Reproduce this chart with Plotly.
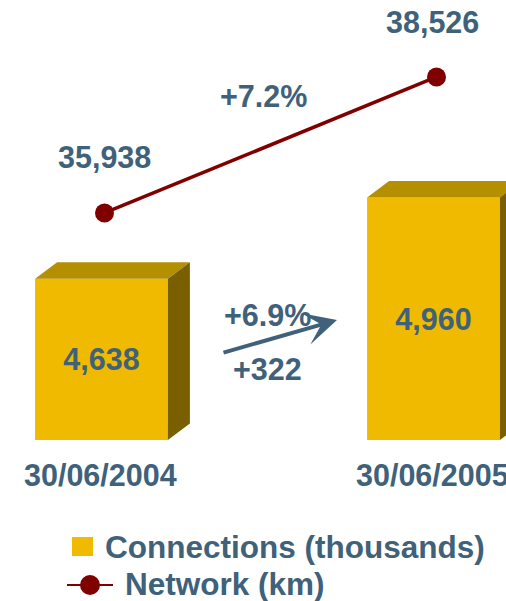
import plotly.graph_objects as go

# ---- data ----
categories = ["30/06/2004", "30/06/2005"]
connections = [4638, 4960]          # thousands
network = [35938, 38526]            # km
series_names = ["Connections (thousands)", "Network (km)"]

# ---- styling ----
W, H = 506, 601
TEXT = "#40617A"
FRONT = "#EFBA00"
TOP = "#B48F00"
SIDE = "#7A5F00"
LINE = "#800000"
FONT = "Liberation Sans, Arial, sans-serif"
FS = 30.5
FS_LEG = 31.5

BASE = 4000                          # bar axis baseline
X_RANGE = [-101.5 / 332, 1 + (W - 433.5) / 332]
Y_RANGE = [3363, 5741]
Y2_RANGE = [28554, 39991]
BAR_W = 0.4
DX = 22 / 332                        # depth offset (x units)
DY = 16.5 * (Y_RANGE[1] - Y_RANGE[0]) / H  # depth offset (y units)
LINE_DX = 3 / 332                    # small horizontal offset of line points

xs = list(range(len(categories)))

fig = go.Figure()

# front faces
fig.add_trace(go.Bar(
    x=xs, y=[v - BASE for v in connections], base=BASE, width=BAR_W,
    marker=dict(color=FRONT, line=dict(width=0)),
    text=[f"{v:,}" for v in connections], textposition="inside",
    insidetextanchor="middle", textangle=0,
    textfont=dict(family=FONT, size=FS, color=TEXT, weight="bold"),
    name=series_names[0], showlegend=False, hoverinfo="skip",
))

# top and side faces (3D effect), derived from the data
for x, v in zip(xs, connections):
    l, r = x - BAR_W / 2, x + BAR_W / 2
    fig.add_trace(go.Scatter(
        x=[l, l + DX, r + DX, r, l], y=[v, v + DY, v + DY, v, v],
        fill="toself", fillcolor=TOP, mode="lines", line=dict(width=0),
        showlegend=False, hoverinfo="skip"))
    fig.add_trace(go.Scatter(
        x=[r, r + DX, r + DX, r, r], y=[v, v + DY, BASE + DY, BASE, v],
        fill="toself", fillcolor=SIDE, mode="lines", line=dict(width=0),
        showlegend=False, hoverinfo="skip"))

# network line
fig.add_trace(go.Scatter(
    x=[x + LINE_DX for x in xs], y=network, yaxis="y2", mode="lines+markers",
    line=dict(color=LINE, width=3.5),
    marker=dict(color=LINE, size=19),
    name=series_names[1], showlegend=False, hoverinfo="skip",
))

ann = []
def txt(text, size=FS, **kw):
    d = dict(text=text, showarrow=False, xanchor="center", yanchor="middle",
             font=dict(family=FONT, size=size, color=TEXT, weight="bold"))
    d.update(kw)
    ann.append(d)

# network value labels
shifts = [(3, 56), (-1, 55)]
for x, v, (sx, sy) in zip(xs, network, shifts):
    txt(f"{v:,}", x=x, y=v, xref="x", yref="y2", xshift=sx, yshift=sy)

# network growth
net_pct = (network[1] - network[0]) / network[0] * 100
txt(f"+{net_pct:.1f}%", x=0.5, y=sum(network) / 2, xref="x", yref="y2",
    xshift=-4.5, yshift=49)

# connections growth
con_pct = (connections[1] - connections[0]) / connections[0] * 100
txt(f"+{con_pct:.1f}%", x=267.5 / W, y=1 - 315 / H, xref="paper", yref="paper")
txt(f"+{connections[1] - connections[0]:,}", x=267 / W, y=1 - 369 / H,
    xref="paper", yref="paper")
ann.append(dict(x=337 / W, y=1 - 320 / H, xref="paper", yref="paper",
                ax=-115, ay=33, showarrow=True, arrowhead=3, arrowsize=1.35,
                arrowwidth=4, arrowcolor=TEXT, text="", standoff=0))

# category labels
for x, c in zip(xs, categories):
    txt(c, x=x, y=1 - 475 / H, xref="x", yref="paper", xshift=-1.5)

# legend
txt(series_names[0], size=FS_LEG, x=103 / W, y=1 - 547 / H, xref="paper",
    yref="paper", xanchor="left")
txt(series_names[1], size=FS_LEG, x=123 / W, y=1 - 584 / H, xref="paper",
    yref="paper", xanchor="left")

shapes = [
    dict(type="rect", xref="paper", yref="paper", x0=72 / W, x1=93 / W,
         y0=1 - 556 / H, y1=1 - 537 / H, fillcolor=FRONT, line=dict(width=0)),
    dict(type="line", xref="paper", yref="paper", x0=67 / W, x1=113 / W,
         y0=1 - 585 / H, y1=1 - 585 / H, line=dict(color=LINE, width=2)),
    dict(type="circle", xref="paper", yref="paper", x0=80 / W, x1=100 / W,
         y0=1 - 595 / H, y1=1 - 575 / H, fillcolor=LINE, line=dict(width=0)),
]

fig.update_layout(
    width=W, height=H, margin=dict(l=0, r=0, t=0, b=0),
    paper_bgcolor="white", plot_bgcolor="white",
    xaxis=dict(range=X_RANGE, visible=False, fixedrange=True),
    yaxis=dict(range=Y_RANGE, visible=False, fixedrange=True),
    yaxis2=dict(range=Y2_RANGE, visible=False, overlaying="y", fixedrange=True),
    annotations=ann, shapes=shapes, showlegend=False, hovermode=False,
)

fig.write_html("out.html", config={"displayModeBar": False})
